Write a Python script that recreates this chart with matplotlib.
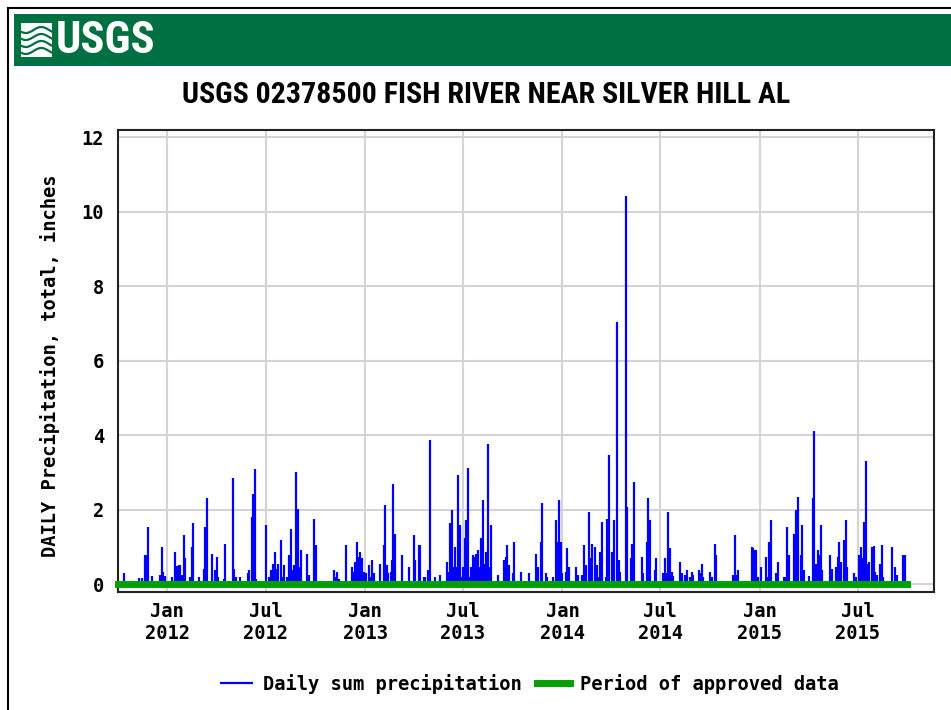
import numpy as np
import pandas as pd
import matplotlib
matplotlib.use("Agg")
import matplotlib.pyplot as plt
import matplotlib.dates as mdates
from matplotlib.patches import Rectangle
from matplotlib import font_manager

# =========================================================
# DATA (daily precipitation, inches)
# =========================================================

dates_wy2012 = [
    "2011-10-13", "2011-11-09", "2011-11-15", "2011-11-21", "2011-11-24",
    "2011-11-27", "2011-12-04", "2011-12-19", "2011-12-22", "2011-12-24",
    "2011-12-27", "2012-01-10", "2012-01-15", "2012-01-18", "2012-01-22",
    "2012-01-25", "2012-01-28", "2012-01-31", "2012-02-03", "2012-02-12",
    "2012-02-15", "2012-02-18", "2012-02-28", "2012-03-08", "2012-03-11",
    "2012-03-14", "2012-03-23", "2012-03-29", "2012-04-01", "2012-04-04",
    "2012-04-14", "2012-04-17", "2012-05-01", "2012-05-04", "2012-05-07",
    "2012-05-15", "2012-05-29", "2012-06-01", "2012-06-05", "2012-06-08",
    "2012-06-11", "2012-06-14", "2012-07-02", "2012-07-08", "2012-07-11",
    "2012-07-14", "2012-07-18", "2012-07-21", "2012-07-24", "2012-07-29",
    "2012-08-01", "2012-08-04", "2012-08-09", "2012-08-13", "2012-08-16",
    "2012-08-19", "2012-08-23", "2012-08-26", "2012-08-29", "2012-09-01",
    "2012-09-04", "2012-09-16", "2012-09-19", "2012-09-29",
]
values_wy2012 = [
    0.29, 0.16, 0.16, 0.78, 0.78,
    1.54, 0.21, 0.24, 1.00, 0.33,
    0.21, 0.20, 0.87, 0.48, 0.51,
    0.51, 0.24, 1.32, 0.69, 0.20,
    1.00, 1.63, 0.20, 0.42, 1.54,
    2.30, 0.82, 0.38, 0.73, 0.20,
    0.15, 1.09, 2.84, 0.42, 0.20,
    0.20, 0.29, 0.38, 1.81, 2.43,
    3.10, 0.15, 1.58, 0.20, 0.38,
    0.55, 0.87, 0.42, 0.55, 1.18,
    0.20, 0.51, 0.20, 0.78, 1.49,
    0.38, 0.51, 3.02, 2.03, 0.47,
    0.91, 0.82, 0.24, 1.76,
]

dates_wy2013 = [
    "2012-10-02", "2012-11-04", "2012-11-07", "2012-11-10", "2012-11-13",
    "2012-11-26", "2012-12-08", "2012-12-11", "2012-12-14", "2012-12-17",
    "2012-12-20", "2012-12-23", "2012-12-26", "2012-12-29", "2013-01-02",
    "2013-01-08", "2013-01-11", "2013-01-14", "2013-01-17", "2013-01-29",
    "2013-02-04", "2013-02-07", "2013-02-10", "2013-02-13", "2013-02-17",
    "2013-02-19", "2013-02-22", "2013-02-25", "2013-03-10", "2013-03-23",
    "2013-04-01", "2013-04-03", "2013-04-10", "2013-04-13", "2013-04-19",
    "2013-04-22", "2013-04-28", "2013-05-01", "2013-05-11", "2013-05-20",
    "2013-06-01", "2013-06-04", "2013-06-07", "2013-06-10", "2013-06-13",
    "2013-06-16", "2013-06-19", "2013-06-22", "2013-06-25", "2013-06-28",
    "2013-07-01", "2013-07-04", "2013-07-07", "2013-07-10", "2013-07-13",
    "2013-07-16", "2013-07-19", "2013-07-22", "2013-07-25", "2013-07-28",
    "2013-08-01", "2013-08-04", "2013-08-07", "2013-08-10", "2013-08-13",
    "2013-08-16", "2013-08-19", "2013-08-22", "2013-09-03", "2013-09-15",
    "2013-09-18", "2013-09-21", "2013-09-24",
]
values_wy2013 = [
    1.05, 0.38, 0.20, 0.33, 0.15,
    1.05, 0.47, 0.33, 0.60, 1.14,
    0.73, 0.87, 0.69, 0.33, 0.29,
    0.51, 0.20, 0.64, 0.29, 0.55,
    1.05, 2.12, 0.51, 0.29, 0.33,
    0.64, 2.70, 1.36, 0.78, 0.47,
    1.32, 0.64, 1.05, 1.05, 0.20,
    0.20, 0.38, 3.88, 0.18, 0.24,
    0.60, 0.33, 1.63, 1.99, 0.47,
    1.00, 0.47, 2.93, 1.58, 0.20,
    0.47, 1.23, 1.72, 3.13, 0.20,
    0.47, 0.78, 0.73, 0.82, 0.91,
    0.47, 1.23, 2.25, 0.55, 0.87,
    3.76, 0.47, 1.58, 0.24, 0.64,
    0.73, 1.05, 0.51,
]

dates_wy2014 = [
    "2013-10-01", "2013-10-04", "2013-10-16", "2013-10-31", "2013-11-13",
    "2013-11-16", "2013-11-22", "2013-11-25", "2013-12-01", "2013-12-04",
    "2013-12-14", "2013-12-20", "2013-12-23", "2013-12-26", "2013-12-29",
    "2014-01-01", "2014-01-07", "2014-01-10", "2014-01-13", "2014-01-26",
    "2014-01-29", "2014-02-07", "2014-02-10", "2014-02-13", "2014-02-19",
    "2014-02-22", "2014-02-25", "2014-03-03", "2014-03-06", "2014-03-09",
    "2014-03-12", "2014-03-15", "2014-03-22", "2014-03-25", "2014-03-28",
    "2014-04-03", "2014-04-06", "2014-04-12", "2014-04-15", "2014-04-18",
    "2014-04-29", "2014-05-01", "2014-05-07", "2014-05-10", "2014-05-13",
    "2014-05-28", "2014-05-31", "2014-06-06", "2014-06-09", "2014-06-12",
    "2014-06-21", "2014-06-24", "2014-07-07", "2014-07-10", "2014-07-13",
    "2014-07-16", "2014-07-19", "2014-07-22", "2014-07-25", "2014-08-07",
    "2014-08-10", "2014-08-16", "2014-08-19", "2014-08-25", "2014-08-28",
    "2014-08-31", "2014-09-10", "2014-09-13", "2014-09-16", "2014-09-19",
]
values_wy2014 = [
    0.29, 1.14, 0.33, 0.29, 0.82,
    0.47, 1.14, 2.17, 0.29, 0.18,
    0.18, 1.72, 1.14, 2.25, 1.14,
    0.29, 0.33, 0.96, 0.47, 0.47,
    0.24, 0.24, 1.05, 0.51, 1.94,
    0.69, 1.09, 1.00, 0.51, 0.20,
    0.87, 1.67, 0.20, 1.76, 3.46,
    0.87, 1.72, 7.05, 0.64, 0.33,
    10.42, 2.08, 0.69, 1.09, 2.73,
    0.73, 0.29, 1.14, 2.30, 1.72,
    0.38, 0.69, 0.29, 0.69, 0.29,
    1.94, 0.96, 0.33, 0.21, 0.60,
    0.29, 0.24, 0.38, 0.20, 0.33,
    0.24, 0.38, 0.29, 0.55, 0.20,
]

dates_wy2015 = [
    "2014-10-01", "2014-10-04", "2014-10-10", "2014-10-13", "2014-11-13",
    "2014-11-16", "2014-11-19", "2014-11-22", "2014-12-17", "2014-12-20",
    "2014-12-23", "2014-12-26", "2014-12-29", "2015-01-03", "2015-01-12",
    "2015-01-15", "2015-01-18", "2015-01-21", "2015-01-31", "2015-02-03",
    "2015-02-15", "2015-02-18", "2015-02-21", "2015-02-24", "2015-03-06",
    "2015-03-09", "2015-03-12", "2015-03-18", "2015-03-21", "2015-03-24",
    "2015-04-02", "2015-04-09", "2015-04-12", "2015-04-15", "2015-04-18",
    "2015-04-21", "2015-04-24", "2015-04-27", "2015-05-12", "2015-05-15",
    "2015-05-22", "2015-05-25", "2015-05-28", "2015-05-31", "2015-06-06",
    "2015-06-09", "2015-06-12", "2015-06-25", "2015-06-28", "2015-07-04",
    "2015-07-07", "2015-07-10", "2015-07-13", "2015-07-16", "2015-07-19",
    "2015-07-22", "2015-07-28", "2015-07-31", "2015-08-03", "2015-08-06",
    "2015-08-12", "2015-08-15", "2015-08-18", "2015-09-03", "2015-09-09",
    "2015-09-12", "2015-09-24", "2015-09-27",
]
values_wy2015 = [
    0.33, 0.20, 1.09, 0.78, 0.24,
    1.32, 0.24, 0.38, 1.00, 0.96,
    0.93, 0.93, 0.20, 0.47, 0.73,
    0.20, 1.14, 1.72, 0.29, 0.60,
    0.18, 0.20, 1.54, 0.78, 1.36,
    1.99, 2.33, 0.78, 1.58, 0.38,
    0.21, 2.30, 4.10, 0.55, 0.91,
    0.78, 1.58, 0.38, 0.78, 0.42,
    0.47, 0.73, 1.14, 0.60, 1.18,
    1.72, 0.47, 0.29, 0.20, 0.78,
    1.00, 0.69, 1.67, 3.31, 0.55,
    0.60, 1.00, 1.02, 0.33, 0.24,
    0.55, 1.05, 0.20, 1.00, 0.47,
    0.24, 0.78, 0.78,
]

approved_start = "2011-10-01"
approved_end = "2015-09-30"

title = "USGS 02378500 FISH RIVER NEAR SILVER HILL AL"
y_label = "DAILY Precipitation, total, inches"
legend_labels = ["Daily sum precipitation", "Period of approved data"]

precip_dates = pd.to_datetime(dates_wy2012 + dates_wy2013 + dates_wy2014 + dates_wy2015)
precip_values = np.array(values_wy2012 + values_wy2013 + values_wy2014 + values_wy2015)

# =========================================================
# FONTS
# =========================================================

installed = {f.name for f in font_manager.fontManager.ttflist}

mono = ["DejaVu Sans Mono"]
narrow_candidates = ["Liberation Sans Narrow", "Roboto Condensed", "DejaVu Sans Condensed"]
narrow_name = next((n for n in narrow_candidates if n in installed), None)
if narrow_name is None:
    narrow, size_scale = ["Liberation Sans"], 0.81
else:
    narrow, size_scale = [narrow_name], 1.0

# =========================================================
# FIGURE
# =========================================================

W, H = 951, 710
fig = plt.figure(figsize=(W / 100, H / 100), dpi=100)

# background layer in pixel coordinates (frame, banner, logo, title)
bg = fig.add_axes([0, 0, 1, 1], zorder=0)
bg.set_xlim(0, W)
bg.set_ylim(H, 0)
bg.axis("off")

bg.plot([8, 8], [8, H], color="black", lw=1.5)
bg.plot([8, W], [8, 8], color="black", lw=1.5)

bg.add_patch(Rectangle((14, 14), W - 14, 52, facecolor="#006f41", edgecolor="none"))

# logo icon
bg.add_patch(Rectangle((21, 23), 31, 34, facecolor="white", edgecolor="none"))
xs = np.linspace(21, 52, 40)
for k in range(4):
    ys = 30 + k * 7 + 3 * np.sin((xs - 21) / 31 * 2 * np.pi + 0.6)
    bg.plot(xs, ys, color="#006f41", lw=1.6)

bg.text(56, 41, "USGS", color="white", fontsize=32 * size_scale,
        fontweight="bold", family=narrow, ha="left", va="center")

bg.text(486, 95, title, color="black", fontsize=21.5 * size_scale,
        fontweight="bold", family=narrow, ha="center", va="center")

# =========================================================
# MAIN AXES
# =========================================================

ax = fig.add_axes([118 / W, 1 - 592 / H, (934 - 118) / W, (592 - 130) / H], zorder=1)

ax.vlines(precip_dates, 0, precip_values, color="#0000ff", lw=1.6,
          label=legend_labels[0], zorder=2)

ax.plot(pd.to_datetime([approved_start, approved_end]), [0.01, 0.01],
        color="#00a000", lw=5, solid_capstyle="projecting", clip_on=False,
        label=legend_labels[1], zorder=3)

ax.set_xlim(pd.Timestamp("2011-10-01 18:00"), pd.Timestamp("2015-11-19 12:00"))
ax.set_ylim(-0.21, 12.19)

ax.set_yticks(np.arange(0, 13, 2))
ax.xaxis.set_major_locator(mdates.MonthLocator(bymonth=[1, 7]))
ax.xaxis.set_major_formatter(mdates.DateFormatter("%b\n%Y"))

ax.grid(True, color="#d4d4d4", lw=1.5)
ax.set_axisbelow(True)

ax.tick_params(axis="both", length=0)
ax.tick_params(axis="y", pad=10)
ax.tick_params(axis="x", pad=7)
for lab in ax.get_xticklabels() + ax.get_yticklabels():
    lab.set_family(mono)
    lab.set_fontweight("bold")
    lab.set_fontsize(13.5)

for s in ax.spines.values():
    s.set_color("#222222")
    s.set_linewidth(1.5)

fig.text(50 / W, 1 - 366 / H, y_label, rotation=90, ha="center", va="center",
         family=mono, fontweight="bold", fontsize=13.5)

fig.legend(loc="center", bbox_to_anchor=(529 / W, 1 - 684 / H), ncol=2,
           frameon=False, handlelength=1.8, handletextpad=0.5, columnspacing=0.8,
           prop={"family": mono, "weight": "bold", "size": 13.5})

fig.savefig("out.png", dpi=100)
